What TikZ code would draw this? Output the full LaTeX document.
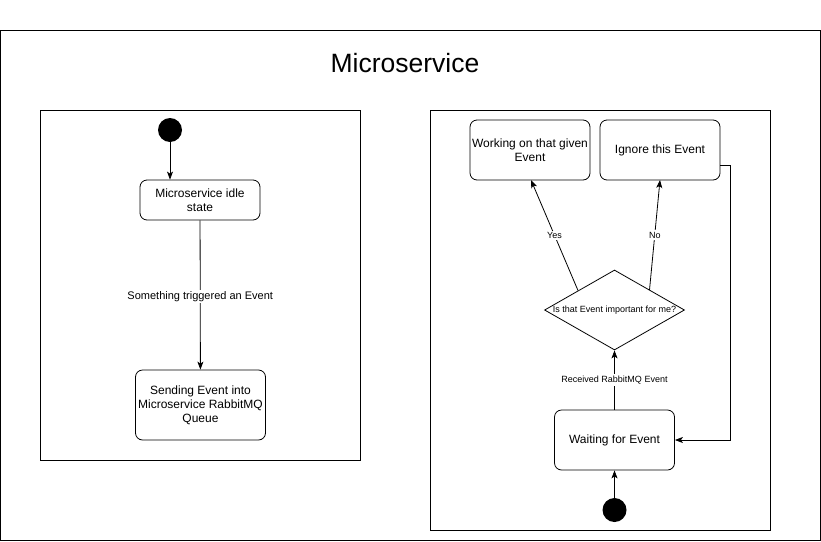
\documentclass[tikz,border=0pt]{standalone}
\usepackage{fontspec}
\setmainfont{Liberation Sans}
\usetikzlibrary{arrows.meta,shapes.geometric}
\tikzset{
  frame/.style={draw=black, line width=1pt},
  state/.style={draw=black, line width=0.8pt, rounded corners=7pt, align=center, inner sep=0pt, font=\fontsize{12}{14}\selectfont},
  startdot/.style={circle, fill=black, minimum size=24pt, inner sep=0pt},
  decision/.style={diamond, draw=black, line width=0.8pt, inner sep=0pt, minimum width=140pt, minimum height=80pt, aspect=1.75, font=\fontsize{9}{11}\selectfont},
  flow/.style={draw=black, line width=0.8pt, -{Stealth[length=8pt,width=6pt,inset=2pt]}},
  elabel/.style={fill=white, inner sep=1.5pt, font=\fontsize{9}{11}\selectfont},
}
\begin{document}
\begin{tikzpicture}[x=1pt,y=-1pt]
\useasboundingbox (0,0) rectangle (821,541);
\fill[white] (0,0) rectangle (821,541);
% frames
\draw[frame] (0.5,30) rectangle (820,540);
\node[font=\fontsize{26.5}{30}\selectfont] (title) at (405,63) {Microservice};
\draw[frame] (40,110) rectangle (360,460);
\draw[frame] (430,110) rectangle (770,530);
% left diagram
\node[startdot] (s1) at (170,130) {};
\node[state, minimum width=120pt, minimum height=40pt] (idle) at (200,200) {Microservice idle\\state};
\node[state, minimum width=130pt, minimum height=70pt] (send) at (200.5,405) {Sending Event into\\Microservice RabbitMQ\\Queue};
\draw[flow] (s1) -- (s1 |- idle.north);
\draw[flow] (idle) -- node[elabel, pos=0.51, font=\fontsize{11}{13}\selectfont] {Something triggered an Event} (send);
% right diagram
\node[state, minimum width=120pt, minimum height=60pt] (work) at (530,150) {Working on that given\\Event};
\node[state, minimum width=120pt, minimum height=60pt] (ign) at (660,150) {Ignore this Event};
\node[decision] (dec) at (614.5,310) {Is that Event important for me?};
\node[state, minimum width=120pt, minimum height=60pt] (wait) at (614.5,440) {Waiting for Event};
\node[startdot] (s2) at (614.5,510) {};
\coordinate (yesfrom) at (578,290.5);
\coordinate (yesto) at (531,180);
\coordinate (nofrom) at (649.5,290);
\coordinate (noto) at (660,180);
\draw[flow] (yesfrom) -- node[elabel, pos=0.5] {Yes} (yesto);
\draw[flow] (nofrom) -- node[elabel, pos=0.5] {No} (noto);
\draw[flow] (wait) -- node[elabel, pos=0.5] {Received RabbitMQ Event} (dec.south);
\draw[flow] (s2) -- (wait);
\coordinate (loopa) at (730.5,165.5);
\coordinate (loopb) at (730.5,440);
\draw[flow] (ign.east |- loopa) -- (loopa) -- (loopb) -- (wait.east);
\end{tikzpicture}
\end{document}
